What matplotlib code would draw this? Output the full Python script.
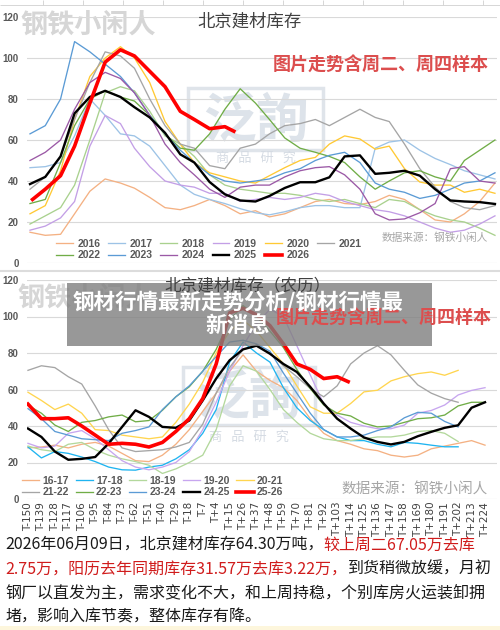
import numpy as np
import matplotlib
matplotlib.use('Agg')
import matplotlib.pyplot as plt
from matplotlib.patches import Rectangle
from matplotlib.font_manager import FontProperties

plt.rcParams['font.family'] = ['Noto Sans CJK SC', 'DejaVu Sans']
nan = np.nan

# ---------------- top chart: calendar days ----------------
top_days = [0, 12, 24, 35, 47, 59, 71, 82, 94, 106, 118, 129, 141, 153, 165, 177,
            188, 200, 212, 224, 235, 247, 259, 271, 282, 294, 306, 318, 330, 341, 353, 365]
y2016 = [15, 13.5, 14, 24, 35, 41, 39, 36.5, 32, 27, 26, 28, 31, 28, 24, 25.5, 22.5, 24, 27, 30, 31, 29, 28.5, 30, 33, 31, 26, 21, 20, 24, 30, 39]
y2017 = [46.5, 47, 49, 62, 80, 72, 63, 62, 57, 47.5, 38, 33.5, 31, 29, 26.5, 24.5, 23.5, 25, 27, 28, 28, 27, 27, 56, 59, 60, 55, 51, 48, 45, 43, 41]
y2018 = [19, 23, 27, 38, 60, 83, 86, 84, 74, 62, 58, 52, 43, 38, 36, 35, 34, 34, 33, 31, 30, 31, 29, 27, 31, 30, 26, 23, 21, 20, 17, 13.5]
y2019 = [16, 18, 22, 30, 57, 72, 68, 56, 47, 40, 38, 37, 34, 34, 30, 31, 32, 31, 32, 34, 33, 30, 28, 26, 25, 23, 20, 17, 15, 16, 19, 23]
y2020 = [24, 28, 45, 70, 91, 100, 105.5, 100, 88, 69, 58, 49, 44, 42, 40, 39, 42.6, 46.5, 50, 51.5, 58, 62, 60.5, 55.5, 57, 46, 39.5, 38, 38, 34.5, 36, 34]
y2021 = [36, 42, 52, 70, 88, 103, 101, 95, 80, 67, 58, 56, 47.5, 46, 56, 58, 63, 67, 68, 70, 67, 71, 75, 71, 69, 58, 46, 37, 30, 27, 26, 28]
y2022 = [29, 31, 49, 67, 80, 84, 81, 79, 72, 63, 56, 55, 63, 75, 85, 78, 70, 61, 56, 54, 52, 49, 42, 36, 40, 44, 45, 42, 40, 50, 55, 60]
y2023 = [63, 67, 80, 108, 103, 97, 91, 83, 72, 63, 55, 49, 43, 40, 39, 40, 41, 44, 46, 50, 52.5, 54, 49, 39, 36, 34.5, 31.5, 33, 36, 39, 40, 44]
y2024 = [50, 54, 60, 75, 88, 93, 90, 83, 72, 58, 49, 43, 36, 32, 37, 38, 38, 42, 45, 46.5, 47, 43, 36, 24, 21, 21.5, 24.5, 29, 46, 47, 40, 39]
y2025 = [38.5, 42, 52, 73, 81, 84, 81, 76, 71, 63.5, 53, 49, 39.5, 33.5, 30.5, 30, 32.7, 36.6, 39.4, 39.4, 41.8, 52, 52.5, 43.5, 44, 45, 42.6, 36, 30.5, 30, 29.7, 28.8]
days2026 = [2, 12, 24, 35, 47, 59, 71, 82, 94, 106, 118, 129, 141, 153, 160]
y2026 = [31, 36, 42.6, 57, 78, 98, 104, 101, 93.5, 86, 74, 70, 65.5, 66.5, 64.3]

top_labels = ['2016', '2017', '2018', '2019', '2020', '2021', '2022', '2023', '2024', '2025', '2026']
top_colors = ['#f4b183', '#9dc3e6', '#a9d18e', '#c39fe6', '#ffc934', '#a5a5a5',
              '#70ad47', '#5b9bd5', '#9b59a6', '#000000', '#ff0000']

# ---------------- bottom chart: lunar days ----------------
lunar_days = list(range(-150, 225, 11))
tick_labels = [f"T{d:+d}" for d in lunar_days]
l1617 = [28, 28.5, 29.5, 28, 30, 31, 29, 25, 21, 20.5, 24, 30, 38, 48, 58, 70, 79, 70, 65, 61, 54, 44, 36, 32, 30, 27.5, 26.5, 24, 23, 24, 27.5, 29, 30.5, 32, 29.5]
l1718 = [28.5, 22.5, 26, 25, 23, 20.5, 17.5, 16, 15.8, 17.5, 18.5, 22, 27, 36, 49, 75, 86, 80, 75, 61, 50, 43, 38, 34, 32, 32, 30, 28.6, 31, 30.5, 29.5, 28.6, 28.6, nan, nan]
l1819 = [29, 27, 26, 30, 31, 27, 24, 22, 20.5, 18.5, 14, 16.5, 20, 24, 38, 62, 73, 70, 60, 49, 42, 36, 33, 32, 32, 33, 34, 34, 35, 37, 37.5, 36, 31.5, nan, nan]
l1920 = [30.5, 28, 29, 36, 37.5, 33, 27, 21, 17.5, 16, 17.5, 20, 26, 38, 53, 70, 84, 96, 104, 100, 84, 68, 52, 46, 42, 40, 38.5, 38.5, 40.5, 47, 48.5, 51.5, 57, 59.5, 61]
l2021 = [58.5, 54, 49, 52, 47, 38, 37.5, 35, 34, 33, 34, 42, 52, 64, 80, 92, 98, 92, 83, 74, 62, 50.5, 47, 47, 52.3, 58.7, 59.6, 64.7, 67, 68.7, 69.6, 67.8, 70.5, nan, nan]
l2122 = [70.5, 73, 72, 67, 63, 51, 38, 28, 26, 26.5, 27, 28.5, 31, 41, 58, 72, 82, 84, 80, 73, 67, 60.5, 56, 62, 74, 80, 84, 79, 70.5, 62.5, 58, 55, 53, nan, nan]
l2223 = [51.4, 47, 40.5, 37, 42, 43, 45, 46, 42.3, 43, 48.6, 56, 61.5, 70, 82, 98, 106, 100, 92, 83, 71, 60.5, 51.5, 47, 45.5, 41.5, 39.5, 40, 42, 44, 44.5, 46, 51, 53, 53]
l2324 = [49.5, 44, 37, 35, 33, 32.5, 32, 36, 37.5, 39.5, 49, 56, 62, 70, 78, 86, 87, 85, 81, 69, 58, 47, 38, 34, 34, 35, 37.5, 39.5, 44.5, 47.5, 47, 42.5, 39.5, nan, nan]
l2425 = [38.6, 34, 26, 21.5, 22, 23, 30.4, 39.5, 48.6, 45, 39.5, 39, 43, 54, 66, 76, 82, 84, 79.6, 74, 69.6, 61.4, 52.3, 44, 38.6, 33.7, 31.3, 29.9, 31.3, 34.4, 36.8, 39, 40.4, 50, 53]
lunar2526 = [-150, -139, -128, -117, -106, -95, -84, -73, -62, -51, -40, -29, -18, -7, 4, 15,
             26, 37, 48, 59, 70, 81, 92, 103, 112]
l2526 = [52, 44, 44, 44.5, 40, 35, 30, 30.5, 30, 28.5, 31, 37, 44, 55, 74, 102, 104.5, 101, 95, 85, 74, 71, 66, 67, 64.3]

bot_labels = ['16-17', '17-18', '18-19', '19-20', '20-21', '21-22', '22-23', '23-24', '24-25', '25-26']
bot_colors = ['#f4b183', '#1fb4f0', '#b3d89c', '#c7a6ef', '#ffd54f', '#a5a5a5',
              '#70ad47', '#5b9bd5', '#000000', '#ff0000']

# ---------------- figure ----------------
W, H = 500, 630
fig = plt.figure(figsize=(5, 6.3), dpi=100)
fig.patch.set_facecolor('white')

def pix_axes(x0, x1, yt, yb, z):
    ax = fig.add_axes([x0 / W, 1 - yb / H, (x1 - x0) / W, (yb - yt) / H], zorder=z)
    return ax

bg = pix_axes(0, W, 0, H, 0)
bg.set_xlim(0, W); bg.set_ylim(H, 0); bg.axis('off')
fg = pix_axes(0, W, 0, H, 3)
fg.set_xlim(0, W); fg.set_ylim(H, 0); fg.axis('off'); fg.patch.set_alpha(0)

# spreadsheet remnants
bg.hlines(4.5, 0, W, color='#d0d0d0', lw=0.6)
bg.vlines(np.arange(43, W, 40), 0, 4.5, color='#d0d0d0', lw=0.6)
bg.hlines(271, 0, W, color='#dcdcdc', lw=1.5)
bg.add_patch(Rectangle((0, 626), W, 4, color='#fdf6dc', lw=0))

# watermarks
for (bx0, by0, bx1, by1, ty) in [(188, 88, 323, 150, 158), (183, 367, 315, 425, 437)]:
    bg.add_patch(Rectangle((bx0, by0), bx1 - bx0, by1 - by0, fill=False,
                           ec='#dfe4ea', lw=2.5))
    bg.text((bx0 + bx1) / 2, (by0 + by1) / 2 + 2, '泛詢', fontsize=38, color='#dde3ea',
            ha='center', va='center', fontweight='bold')
    bg.text((bx0 + bx1) / 2, ty, '商   品   研   究', fontsize=9.5, color='#d5dbe3',
            ha='center', va='center')
bg.text(20, 25, '钢铁小闲人', fontsize=19.5, color='#d6d6d6', fontweight='bold',
        ha='left', va='center')
bg.text(17, 298, '钢铁小闲人', fontsize=19.5, color='#d6d6d6', fontweight='bold',
        ha='left', va='center')

num_font = FontProperties(family='Liberation Sans', weight='bold', size=7.5)

def style_axes(ax):
    ax.set_facecolor('none')
    ax.set_ylim(0, 120)
    ax.set_yticks(range(0, 121, 20))
    for s in ax.spines.values():
        s.set_visible(False)
    ax.grid(axis='y', color='#d9d9d9', lw=0.8)
    ax.set_axisbelow(True)
    ax.tick_params(axis='y', length=0, pad=6, labelcolor='#595959')
    for lab in ax.get_yticklabels():
        lab.set_fontproperties(num_font)
        lab.set_fontsize(7)

# ---- top chart
ax1 = pix_axes(27, 497, 17, 263, 1)
style_axes(ax1)
ax1.set_xlim(-2.35, 366.6)
ax1.set_xticks([])
top_vals = [y2016, y2017, y2018, y2019, y2020, y2021, y2022, y2023, y2024, y2025]
top_lines = []
for lab, vals, col in zip(top_labels[:-1], top_vals, top_colors[:-1]):
    lw = 1.7 if lab == '2025' else 0.95
    ln, = ax1.plot(top_days, vals, color=col, lw=lw, label=lab, zorder=3 if lab == '2025' else 2)
    top_lines.append(ln)
ln, = ax1.plot(days2026, y2026, color=top_colors[-1], lw=2.6, label='2026', zorder=4)
top_lines.append(ln)

order = [0, 6, 1, 7, 2, 8, 3, 9, 4, 10, 5]
leg1 = ax1.legend([top_lines[i] for i in order], [top_labels[i] for i in order],
                  ncol=6, loc='upper left', bbox_to_anchor=(56 / W, 1 - 239 / H),
                  bbox_transform=fig.transFigure, frameon=False, prop=num_font,
                  handlelength=1.6, handletextpad=0.45, columnspacing=0.75,
                  labelspacing=0.12, borderpad=0, borderaxespad=0)
for t in leg1.get_texts():
    t.set_color('#595959')

# ---- bottom chart
ax2 = pix_axes(27, 497, 280, 499, 1)
style_axes(ax2)
ax2.set_xlim(-150.8, 233.8)
ax2.set_xticks(lunar_days)
ax2.set_xticklabels(tick_labels, rotation=90, fontsize=7.5, color='#404040',
                    family='DejaVu Sans')
ax2.tick_params(axis='x', length=0, pad=2)
bot_vals = [l1617, l1718, l1819, l1920, l2021, l2122, l2223, l2324, l2425]
bot_lines = []
for lab, vals, col in zip(bot_labels[:-1], bot_vals, bot_colors[:-1]):
    lw = 1.7 if lab == '24-25' else 0.95
    ln, = ax2.plot(lunar_days, vals, color=col, lw=lw, label=lab, zorder=3 if lab == '24-25' else 2)
    bot_lines.append(ln)
ln, = ax2.plot(lunar2526, l2526, color=bot_colors[-1], lw=2.6, label='25-26', zorder=4)
bot_lines.append(ln)

order2 = [0, 5, 1, 6, 2, 7, 3, 8, 4, 9]
leg2 = ax2.legend([bot_lines[i] for i in order2], [bot_labels[i] for i in order2],
                  ncol=5, loc='upper left', bbox_to_anchor=(22 / W, 1 - 476 / H),
                  bbox_transform=fig.transFigure, frameon=False, prop=num_font,
                  handlelength=1.65, handletextpad=0.3, columnspacing=0.65,
                  labelspacing=0.12, borderpad=0, borderaxespad=0)
for t in leg2.get_texts():
    t.set_color('#595959')

# titles / notes
fg.text(250, 22, '北京建材库存', fontsize=12.5, color='#404040', ha='center', va='center')
fg.text(248, 286, '北京建材库存（农历）', fontsize=12, color='#404040', ha='center', va='center')
fg.text(489, 65, '图片走势含周二、周四样本', fontsize=13, color='#dc4e4e',
        fontweight='bold', ha='right', va='center')
fg.text(492, 318, '图片走势含周二、周四样本', fontsize=13, color='#dc4e4e',
        fontweight='bold', ha='right', va='center')
fg.text(488, 238, '数据来源：钢铁小闲人', fontsize=7.7, color='#a6a6a6', ha='right', va='center')
fg.text(488, 490, '数据来源：钢铁小闲人', fontsize=10.5, color='#a6a6a6', ha='right', va='center')

# banner
fg.add_patch(Rectangle((67, 283), 365, 63, color='#7f7f7f', alpha=0.8, lw=0))
fg.text(238, 302, '钢材行情最新走势分析/钢材行情最', fontsize=15.5, color='white',
        fontweight='bold', ha='center', va='center')
fg.text(238, 325, '新消息', fontsize=15.5, color='white', fontweight='bold',
        ha='center', va='center')

# bottom paragraph with mixed colours
renderer = fig.canvas.get_renderer()
RED, BLK = '#d01c1c', '#1a1a1a'
para = [
    (545, [('2026年06月09日，北京建材库存64.30万吨，', BLK), ('较上周二67.05万去库', RED)]),
    (569, [('2.75万，阳历去年同期库存31.57万去库3.22万，', RED), ('到货稍微放缓，月初', BLK)]),
    (593, [('钢厂以直发为主，需求变化不大，和上周持稳，个别库房火运装卸拥', BLK)]),
    (617, [('堵，影响入库节奏，整体库存有降。', BLK)]),
]
inv = bg.transData.inverted()
for y, pieces in para:
    x = 5
    for s, c in pieces:
        t = bg.text(x, y, s, fontsize=11.5, color=c, ha='left', va='center')
        bb = t.get_window_extent(renderer=renderer)
        x = inv.transform((bb.x1, bb.y0))[0]

fig.savefig('out.png', dpi=100)
